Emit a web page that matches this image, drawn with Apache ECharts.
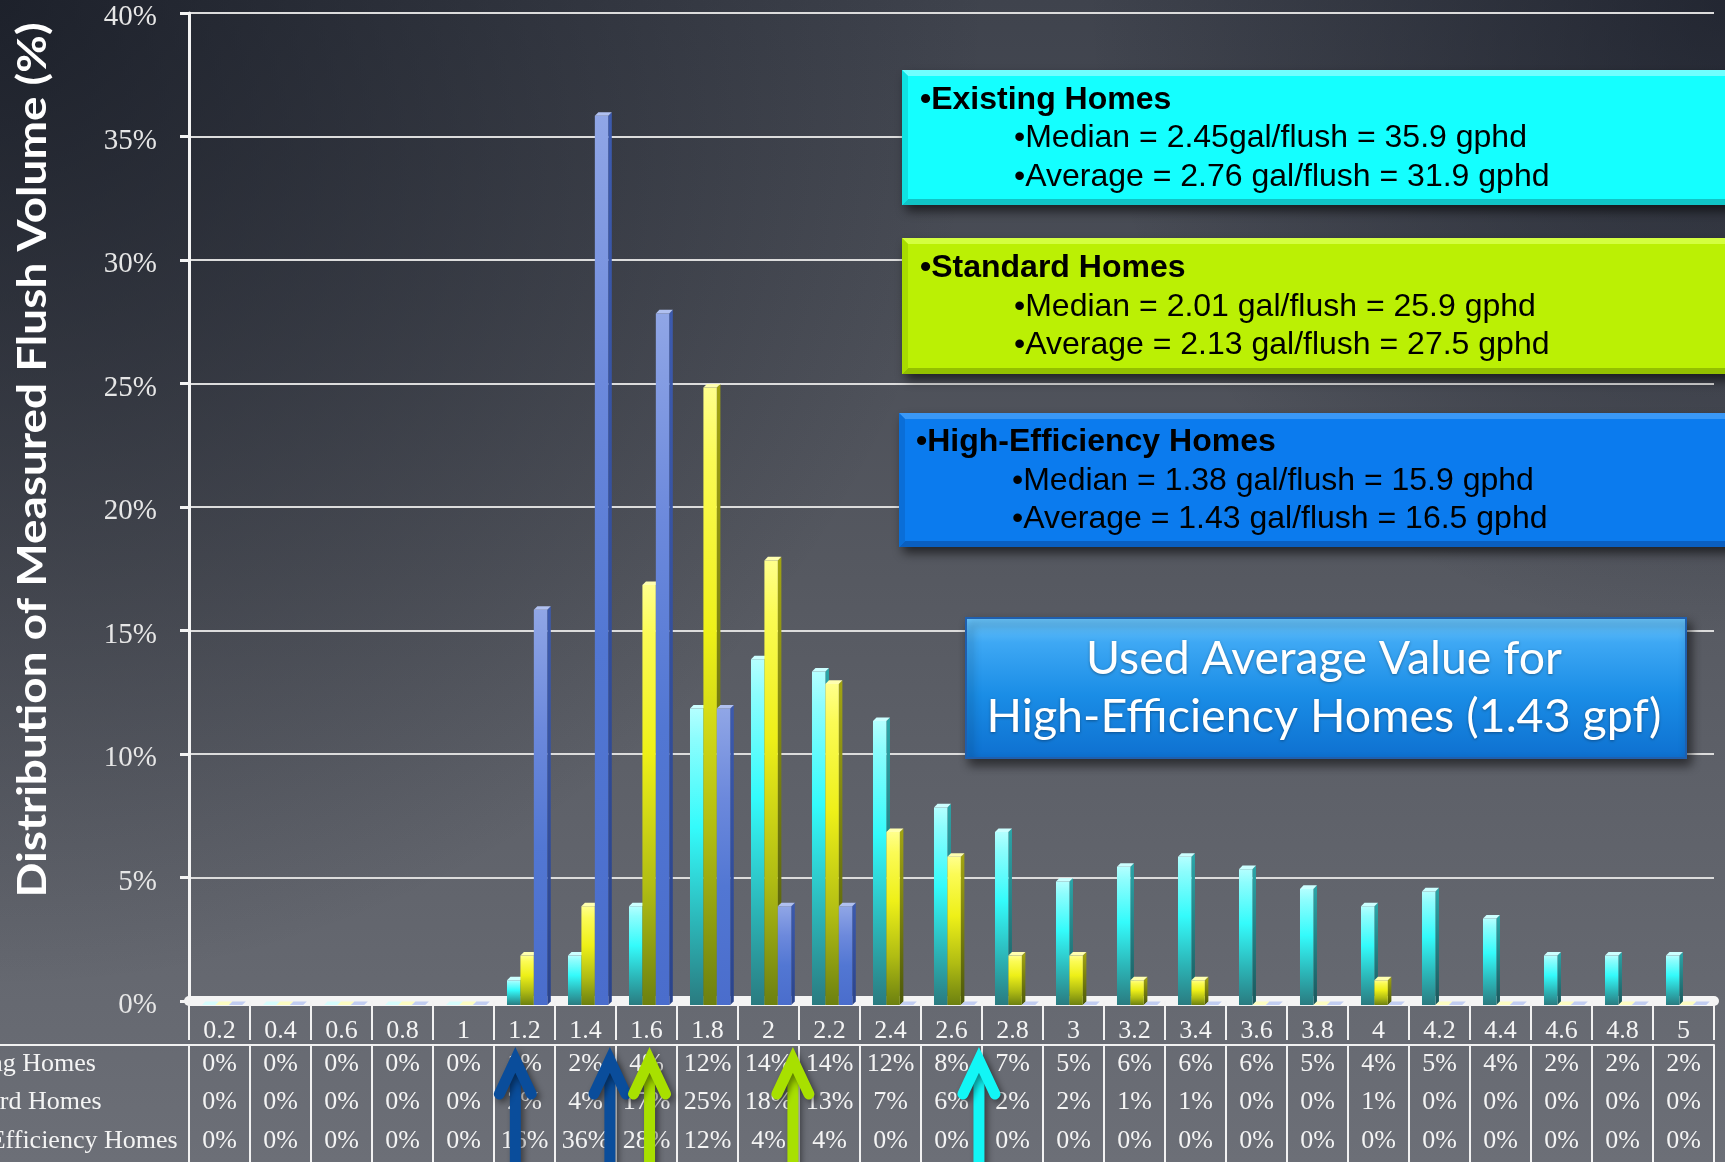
<!DOCTYPE html>
<html>
<head>
<meta charset="utf-8">
<title>Distribution of Measured Flush Volume</title>
<script src="https://cdn.jsdelivr.net/npm/echarts@6/dist/echarts.min.js"></script>
<style>
  html, body { margin: 0; padding: 0; overflow: hidden; background: #4a4d55; }
  #chart { width: 1725px; height: 1162px; }
</style>
</head>
<body>
<div id="chart"></div>
<script>
// ---- data -------------------------------------------------------------
const flushBins = ['0.2', '0.4', '0.6', '0.8', '1', '1.2', '1.4', '1.6', '1.8', '2',
  '2.2', '2.4', '2.6', '2.8', '3', '3.2', '3.4', '3.6', '3.8', '4',
  '4.2', '4.4', '4.6', '4.8', '5'];

const existingHomes = [0, 0, 0, 0, 0, 1, 2, 4, 12, 14,
  13.5, 11.5, 8, 7, 5, 5.6, 6, 5.5, 4.7, 4,
  4.6, 3.5, 2, 2, 2];

const standardHomes = [0, 0, 0, 0, 0, 2, 4, 17, 25, 18,
  13, 7, 6, 2, 2, 1, 1, 0, 0, 1,
  0, 0, 0, 0, 0];

const highEffHomes = [0, 0, 0, 0, 0, 16, 36, 28, 12, 4,
  4, 0, 0, 0, 0, 0, 0, 0, 0, 0,
  0, 0, 0, 0, 0];

const rowNames = ['Existing Homes', 'Standard Homes', 'High-Efficiency Homes'];

const yMin = 0, yMax = 40, yStep = 5;

// median / average markers along the flush-volume scale (gal/flush)
const markerValues = [1.17, 1.48, 1.61, 2.08, 2.69];

const summaryExisting = ['\u2022Existing Homes',
  '\u2022Median = 2.45gal/flush = 35.9 gphd',
  '\u2022Average = 2.76 gal/flush = 31.9 gphd'];
const summaryStandard = ['\u2022Standard Homes',
  '\u2022Median = 2.01 gal/flush = 25.9 gphd',
  '\u2022Average = 2.13 gal/flush = 27.5 gphd'];
const summaryHighEff = ['\u2022High-Efficiency Homes',
  '\u2022Median = 1.38 gal/flush = 15.9 gphd',
  '\u2022Average = 1.43 gal/flush = 16.5 gphd'];
const noteLines = ['Used Average Value for', 'High-Efficiency Homes (1.43 gpf)'];
const yTitle = 'Distribution of Measured Flush Volume (%)';

// ---- styles -----------------------------------------------------------
const markerColors = ['#0a4d9b', '#0a4d9b', '#a8e000', '#a8e000', '#12f6f6'];

const palettes = [
  { // existing: cyan
    front: [[0, '#b4ffff'], [0.1, '#8dfdfd'], [0.4, '#34fbfb'], [0.72, '#2cb6b8'], [1, '#2a7b80']],
    side: [[0, '#2aa6a8'], [1, '#1b575c']],
    top: '#ccffff'
  },
  { // standard: yellow
    front: [[0, '#ffff8c'], [0.12, '#fbfb55'], [0.4, '#eef018'], [0.72, '#b0bc13'], [1, '#6c8010']],
    side: [[0, '#a2a412'], [1, '#4c580a']],
    top: '#ffffb0'
  },
  { // high efficiency: blue
    front: [[0, '#90a6e6'], [0.3, '#6c89dc'], [0.6, '#5277d3'], [1, '#4a6dcc']],
    side: [[0, '#3c5aae'], [1, '#2b448c']],
    top: '#b0c0f0'
  }
];

const chart = echarts.init(document.getElementById('chart'), null, { renderer: 'canvas' });

const measureCtx = document.createElement('canvas').getContext('2d');
function fitScale(text, font, target) {
  measureCtx.font = font;
  return target / measureCtx.measureText(text).width;
}

// put every drawable of a graphic subtree on the given z
function onLayer(el, z) {
  if (el.type === 'group') {
    el.children = el.children.map(c => onLayer(c, z));
  } else {
    el.z = z;
  }
  return el;
}

// 3D-looking column: front face, right side face, top cap
function columnRenderer(slot) {
  const pal = palettes[slot];
  return function (params, api) {
    const idx = api.value(0);
    const val = api.value(1);
    const band = api.size([1, 0])[0];
    const center = api.coord([idx, 0])[0];
    const w = band * 0.22;
    const d = band * 0.058;
    const left = center - band * 0.287 + slot * w;
    const lift = 4;
    const base = api.coord([idx, 0])[1] + lift;
    const top = api.coord([idx, val])[1] + lift;
    return {
      type: 'group',
      children: [
        {
          type: 'polygon',
          shape: { points: [[left + w, top], [left + w + d, top - d], [left + w + d, base - d], [left + w, base]] },
          style: { fill: new echarts.graphic.LinearGradient(0, 0, 0, 1, pal.side.map(s => ({ offset: s[0], color: s[1] }))) }
        },
        {
          type: 'rect',
          shape: { x: left, y: top, width: w, height: Math.max(base - top, 0) },
          style: { fill: new echarts.graphic.LinearGradient(0, 0, 0, 1, pal.front.map(s => ({ offset: s[0], color: s[1] }))) }
        },
        {
          type: 'polygon',
          shape: { points: [[left, top], [left + d, top - d], [left + w + d, top - d], [left + w, top]] },
          style: { fill: pal.top, opacity: val === 0 ? 0.75 : 1 }
        }
      ]
    };
  };
}

function markerRenderer(params, api) {
  const x = api.coord([api.value(0), 0])[0];
  const y0 = api.coord([api.value(0), 0])[1];
  const apex = y0 + 59;
  const color = markerColors[params.dataIndex];
  const lineStyle = {
    stroke: color, lineWidth: 11, fill: null,
    shadowBlur: 6, shadowOffsetX: 3, shadowOffsetY: 3, shadowColor: 'rgba(0,0,0,0.45)'
  };
  return {
    type: 'group',
    children: [
      { type: 'polyline', shape: { points: [[x, apex + 4], [x, apex + 140]] },
        style: Object.assign({}, lineStyle, { lineCap: 'butt' }) },
      { type: 'polyline', shape: { points: [[x - 16, apex + 34], [x, apex], [x + 16, apex + 34]] },
        style: Object.assign({}, lineStyle, { lineCap: 'round', lineJoin: 'miter', miterLimit: 10 }) }
    ]
  };
}

function rowAxis(values, offset, withLines) {
  return {
    type: 'category',
    data: flushBins,
    gridIndex: 0,
    position: 'bottom',
    offset: offset,
    axisLine: { show: withLines, lineStyle: { color: '#f2f2f2', width: 2 } },
    axisTick: { show: withLines, interval: 0, length: 117, lineStyle: { color: '#f2f2f2', width: 2 } },
    axisLabel: {
      interval: 0, margin: 6, color: '#f4f4f4',
      fontFamily: 'Liberation Serif', fontSize: 26,
      formatter: (v, i) => Math.round(values[i]) + '%'
    },
    splitLine: { show: false }
  };
}

function bevelBox(x, y, w, h, c, b) {
  return {
    type: 'group',
    children: [
      { type: 'rect', shape: { x: x, y: y, width: w, height: h },
        style: { fill: c.base, shadowBlur: 10, shadowOffsetX: 4, shadowOffsetY: 6, shadowColor: 'rgba(0,0,0,0.6)' } },
      { type: 'polygon', shape: { points: [[x, y], [x + w, y], [x + w - b, y + b], [x + b, y + b]] }, style: { fill: c.light } },
      { type: 'polygon', shape: { points: [[x, y + h], [x + w, y + h], [x + w - b, y + h - b], [x + b, y + h - b]] }, style: { fill: c.dark } },
      { type: 'polygon', shape: { points: [[x, y], [x + b, y + b], [x + b, y + h - b], [x, y + h]] }, style: { fill: c.side } },
      { type: 'polygon', shape: { points: [[x + w, y], [x + w - b, y + b], [x + w - b, y + h - b], [x + w, y + h]] }, style: { fill: c.dark } }
    ]
  };
}

function summaryTexts(lines, headX, subX, ys) {
  return lines.map((t, i) => ({
    type: 'text',
    x: i === 0 ? headX : subX,
    y: ys[i],
    style: {
      text: t, fill: '#000000',
      fontFamily: 'Liberation Sans', fontSize: 32,
      fontWeight: i === 0 ? 'bold' : 'normal',
      align: 'left', verticalAlign: 'middle'
    }
  }));
}

const titleScale = fitScale(yTitle, 'bold 40px Lato', 875);
const noteScale1 = fitScale(noteLines[0], '47px Lato', 476);
const noteScale2 = fitScale(noteLines[1], '47px Lato', 675);

const cyanBox = { base: '#14ffff', light: '#70ffff', dark: '#10c4c6', side: '#0fe2e2' };
const limeBox = { base: '#bbf004', light: '#d4ff40', dark: '#93c000', side: '#a8dc00' };
const blueBox = { base: '#0b7bee', light: '#3a98f6', dark: '#0a5fc0', side: '#0a6ed8' };

const summaryGroup = onLayer({ type: 'group', silent: true, children: [
  bevelBox(902, 70, 840, 135, cyanBox, 6),
  ...summaryTexts(summaryExisting, 920, 1014, [100, 138, 177]),
  bevelBox(902, 238, 840, 136, limeBox, 6),
  ...summaryTexts(summaryStandard, 920, 1014, [268, 307, 345]),
  bevelBox(899, 413, 840, 134, blueBox, 6),
  ...summaryTexts(summaryHighEff, 916, 1012, [442, 481, 519])
] }, 100);

const noteGroup = onLayer({ type: 'group', silent: true, children: [
  { type: 'rect', shape: { x: 966, y: 618, width: 720, height: 140 },
    style: {
      fill: new echarts.graphic.LinearGradient(0, 0, 0, 1, [
        { offset: 0, color: '#6cc6fb' }, { offset: 0.18, color: '#3ea8f4' },
        { offset: 0.55, color: '#1a8de6' }, { offset: 1, color: '#0e70d0' }]),
      stroke: '#1f5fae', lineWidth: 2,
      shadowBlur: 10, shadowOffsetX: 4, shadowOffsetY: 6, shadowColor: 'rgba(0,0,0,0.55)'
    } },
  { type: 'text', x: 1324, y: 659, scaleX: noteScale1,
    style: { text: noteLines[0], fill: '#ffffff', fontFamily: 'Lato', fontSize: 47,
      align: 'center', verticalAlign: 'middle',
      textShadowBlur: 3, textShadowColor: 'rgba(0,0,0,0.35)', textShadowOffsetY: 1 } },
  { type: 'text', x: 1324, y: 717, scaleX: noteScale2,
    style: { text: noteLines[1], fill: '#ffffff', fontFamily: 'Lato', fontSize: 47,
      align: 'center', verticalAlign: 'middle',
      textShadowBlur: 3, textShadowColor: 'rgba(0,0,0,0.35)', textShadowOffsetY: 1 } }
] }, 100);

const option = {
  animation: false,
  backgroundColor: new echarts.graphic.LinearGradient(0, 0, 0, 1, [
    { offset: 0, color: '#3f434d' },
    { offset: 0.5, color: '#565961' },
    { offset: 1, color: '#6c6f77' }
  ]),
  grid: { left: 189, right: 11, top: 13, bottom: 161, containLabel: false },
  xAxis: [
    {
      type: 'category',
      data: flushBins,
      gridIndex: 0,
      position: 'bottom',
      offset: 5,
      axisLine: { show: true, lineStyle: { color: '#f4f4f4', width: 10 } },
      axisTick: { show: true, interval: 0, length: 39, lineStyle: { color: '#f2f2f2', width: 2 } },
      axisLabel: { interval: 0, margin: 12, color: '#f4f4f4', fontFamily: 'Liberation Serif', fontSize: 26 },
      splitLine: { show: false }
    },
    rowAxis(existingHomes, 44, true),
    rowAxis(standardHomes, 82, false),
    rowAxis(highEffHomes, 121, false),
    { type: 'value', gridIndex: 0, min: 0.1, max: 5.1, show: false }
  ],
  yAxis: {
    type: 'value',
    min: yMin, max: yMax, interval: yStep,
    axisLine: { show: true, lineStyle: { color: '#f4f4f4', width: 3 } },
    axisTick: { show: true, length: 9, lineStyle: { color: '#f4f4f4', width: 3 } },
    axisLabel: {
      margin: 32, color: '#e6e6e6', fontFamily: 'Liberation Serif', fontSize: 29,
      formatter: v => '{pct|' + v + '%}',
      rich: { pct: { color: '#e6e6e6', fontFamily: 'Liberation Serif', fontSize: 29, padding: [9, 0, 0, 0] } }
    },
    splitLine: { show: true, lineStyle: { color: '#dcdcdc', width: 2 } }
  },
  series: [
    { type: 'custom', name: rowNames[0], xAxisIndex: 0, yAxisIndex: 0, clip: false, silent: true,
      renderItem: columnRenderer(0), data: existingHomes.map((v, i) => [i, v]) },
    { type: 'custom', name: rowNames[1], xAxisIndex: 0, yAxisIndex: 0, clip: false, silent: true,
      renderItem: columnRenderer(1), data: standardHomes.map((v, i) => [i, v]) },
    { type: 'custom', name: rowNames[2], xAxisIndex: 0, yAxisIndex: 0, clip: false, silent: true,
      renderItem: columnRenderer(2), data: highEffHomes.map((v, i) => [i, v]) },
    { type: 'custom', name: 'markers', xAxisIndex: 4, yAxisIndex: 0, clip: false, silent: true, z: 10,
      renderItem: markerRenderer, data: markerValues.map(v => [v, 0]) }
  ],
  graphic: [
    // corner shading of the backdrop
    { type: 'rect', z: -10, silent: true, shape: { x: 0, y: 0, width: 1725, height: 1162 },
      style: { fill: { type: 'radial', x: 0, y: 0, r: 0.85, global: false,
        colorStops: [{ offset: 0, color: 'rgba(16,20,30,0.72)' }, { offset: 1, color: 'rgba(16,20,30,0)' }] } } },
    { type: 'rect', z: -10, silent: true, shape: { x: 0, y: 0, width: 1725, height: 1162 },
      style: { fill: { type: 'radial', x: 1, y: 0, r: 0.55, global: false,
        colorStops: [{ offset: 0, color: 'rgba(16,20,32,0.6)' }, { offset: 1, color: 'rgba(16,20,32,0)' }] } } },
    // row header column of the data table
    { type: 'line', silent: true, shape: { x1: 0, y1: 1045, x2: 190, y2: 1045 }, style: { stroke: '#f2f2f2', lineWidth: 2 } },
    ...rowNames.map((t, i) => ({
      type: 'text', silent: true, x: -71, y: [1064, 1102, 1141][i],
      style: { text: t, fill: '#f4f4f4', fontFamily: 'Liberation Serif', fontSize: 26, align: 'left', verticalAlign: 'middle' }
    })),
    // y axis title
    { type: 'text', silent: true, x: 33, y: 460, rotation: Math.PI / 2, scaleX: titleScale,
      style: { text: yTitle, fill: '#ffffff', fontFamily: 'Lato', fontWeight: 'bold', fontSize: 40,
        align: 'center', verticalAlign: 'middle' } },
    summaryGroup,
    noteGroup
  ]
};

chart.setOption(option);
</script>
</body>
</html>
